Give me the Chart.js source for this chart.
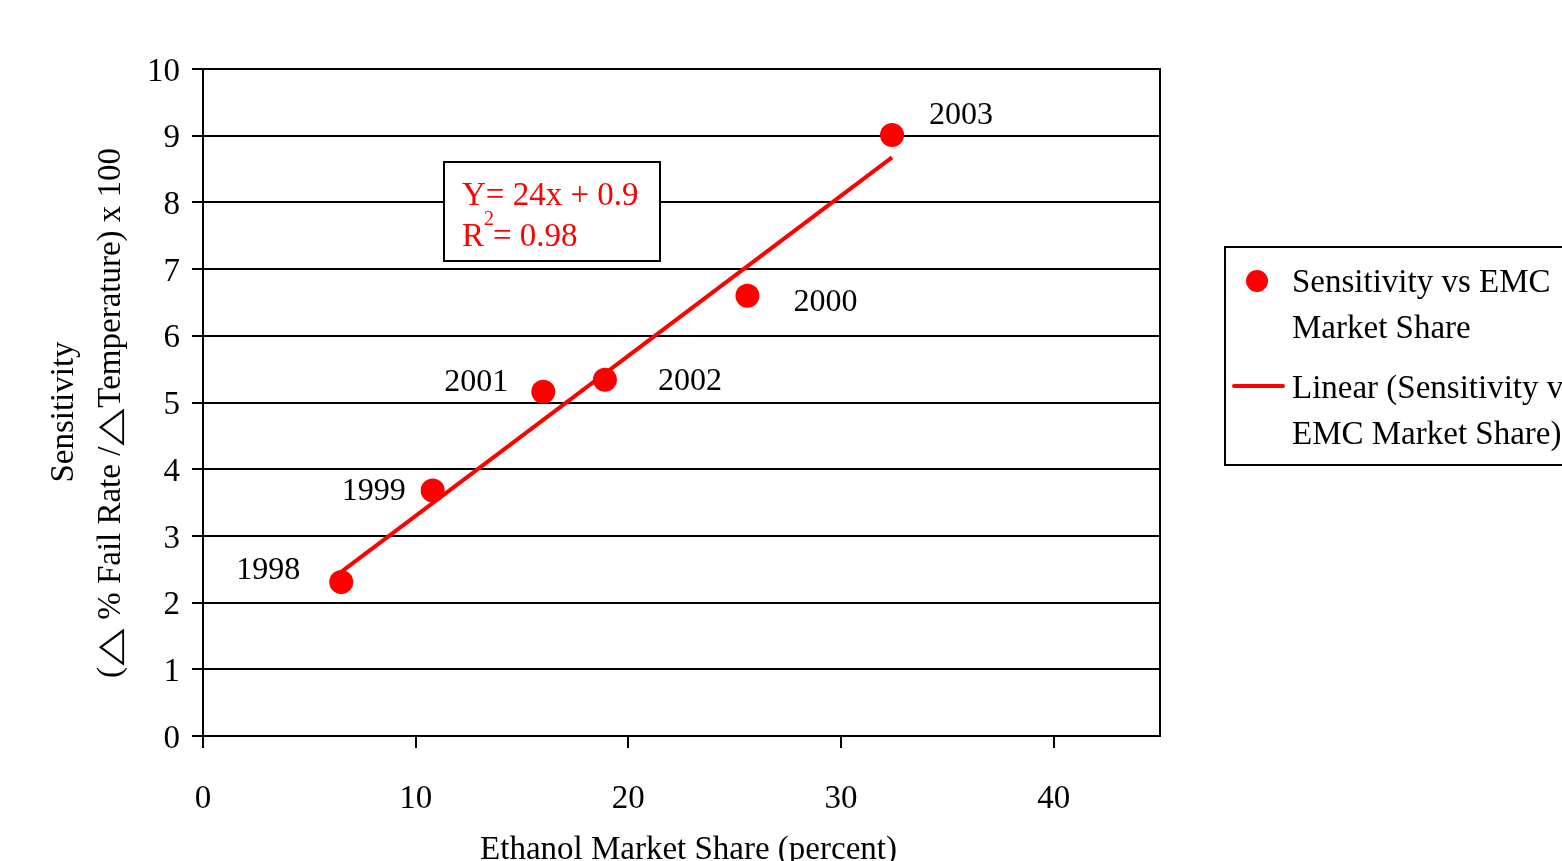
<!DOCTYPE html>
<html>
<head>
<meta charset="utf-8">
<title>Sensitivity vs Ethanol Market Share</title>
<script src="https://cdn.jsdelivr.net/npm/chart.js@4/dist/chart.umd.min.js"></script>
<style>
  html, body { margin: 0; padding: 0; background: #ffffff; overflow: hidden; }
  #chart { display: block; }
</style>
</head>
<body>
<canvas id="chart" width="1562" height="861"></canvas>
<script>
// Yearly observations: ethanol market share (%) vs sensitivity
const years = ['1998', '1999', '2001', '2002', '2000', '2003'];
const marketShare = [6.5, 10.8, 16.0, 18.9, 25.6, 32.4];
const sensitivity = [2.31, 3.68, 5.16, 5.34, 6.6, 9.01];

// Linear fit as stated in the equation box (slope per percent point)
const fitSlope = 0.24;
const fitIntercept = 0.9;
const rSquared = 0.98;

// Axis ticks
const xTickValues = [0, 10, 20, 30, 40];
const yTickValues = [0, 1, 2, 3, 4, 5, 6, 7, 8, 9, 10];

// Year label placement (pixel offsets from each marker)
const yearLabelOffsets = [[-73, -11], [-59, 1], [-67, -9], [85, 2], [78, 7], [69, -19]];

const SERIF = '"Liberation Serif", "Times New Roman", serif';
const RED = '#ff0000';

const scatterPoints = marketShare.map((x, i) => ({ x: x, y: sensitivity[i] }));
const xMin = Math.min(...marketShare);
const xMax = Math.max(...marketShare);
const fitPoints = [xMin, xMax].map(x => ({ x: x, y: fitSlope * x + fitIntercept }));

// Second line of the y-axis title, with wide delta triangles
const yTitleParts = ['(', '\u25B3', ' % Fail Rate /', '\u25B3', 'Temperature) x 100'];
const DELTA_WIDTH = 37;

function drawYTitleLine(ctx, cx, cy) {
  ctx.save();
  ctx.translate(cx, cy);
  ctx.rotate(-Math.PI / 2);
  ctx.font = '33px ' + SERIF;
  ctx.textAlign = 'left';
  ctx.textBaseline = 'middle';
  const widths = yTitleParts.map(p => p === '\u25B3' ? DELTA_WIDTH + 2 : ctx.measureText(p).width);
  const total = widths.reduce((a, b) => a + b, 0);
  let x = -total / 2;
  yTitleParts.forEach((p, i) => {
    if (p === '\u25B3') {
      const w = ctx.measureText(p).width;
      ctx.save();
      ctx.translate(x + 1, 0);
      ctx.scale(DELTA_WIDTH / w, 1);
      ctx.fillText(p, 0, 0);
      ctx.restore();
    } else {
      ctx.fillText(p, x, 0);
    }
    x += widths[i];
  });
  ctx.restore();
}

const decorations = {
  id: 'decorations',
  afterDatasetsDraw(chart) {
    const ctx = chart.ctx;
    const area = chart.chartArea;
    const xs = chart.scales.x;
    const ys = chart.scales.y;
    ctx.save();

    // right edge of the plot frame
    ctx.strokeStyle = '#000';
    ctx.lineWidth = 2;
    ctx.beginPath();
    ctx.moveTo(area.right, area.top - 1);
    ctx.lineTo(area.right, area.bottom);
    ctx.stroke();

    // year labels beside markers
    ctx.fillStyle = '#000';
    ctx.font = '32px ' + SERIF;
    ctx.textAlign = 'center';
    ctx.textBaseline = 'middle';
    years.forEach((yr, i) => {
      const px = xs.getPixelForValue(marketShare[i]);
      const py = ys.getPixelForValue(sensitivity[i]);
      ctx.fillText(yr, px + yearLabelOffsets[i][0], py + yearLabelOffsets[i][1]);
    });

    // equation box
    const bx = area.left + 241, by = area.top + 93, bw = 216, bh = 99;
    ctx.fillStyle = '#fff';
    ctx.fillRect(bx, by, bw, bh);
    ctx.strokeStyle = '#000';
    ctx.lineWidth = 2;
    ctx.strokeRect(bx, by, bw, bh);
    ctx.fillStyle = RED;
    ctx.textAlign = 'left';
    ctx.font = '33px ' + SERIF;
    ctx.fillText('Y= ' + Math.round(fitSlope * 100) + 'x + ' + fitIntercept, bx + 18, by + 34);
    ctx.fillText('R', bx + 18, by + 75);
    ctx.font = '20px ' + SERIF;
    ctx.fillText('2', bx + 40, by + 58);
    ctx.font = '33px ' + SERIF;
    ctx.fillText('= ' + rSquared.toFixed(2), bx + 49, by + 75);

    // axis titles
    ctx.fillStyle = '#000';
    ctx.font = '33px ' + SERIF;
    ctx.textAlign = 'center';
    ctx.fillText('Ethanol Market Share (percent)', (area.left + area.right) / 2 + 7, 850);
    ctx.save();
    ctx.translate(64, 412);
    ctx.rotate(-Math.PI / 2);
    ctx.fillText('Sensitivity', 0, 0);
    ctx.restore();
    drawYTitleLine(ctx, 111, 413);

    // legend
    const lx = 1225, ly = 247;
    ctx.strokeStyle = '#000';
    ctx.lineWidth = 2;
    ctx.strokeRect(lx, ly, 400, 218);
    ctx.fillStyle = RED;
    ctx.beginPath();
    ctx.arc(lx + 32, ly + 34, 11, 0, Math.PI * 2);
    ctx.fill();
    ctx.strokeStyle = RED;
    ctx.lineWidth = 4;
    ctx.lineCap = 'round';
    ctx.beginPath();
    ctx.moveTo(lx + 9, ly + 139);
    ctx.lineTo(lx + 58, ly + 139);
    ctx.stroke();
    ctx.fillStyle = '#000';
    ctx.font = '33px ' + SERIF;
    ctx.textAlign = 'left';
    ctx.textBaseline = 'middle';
    ctx.fillText('Sensitivity vs EMC', lx + 67, ly + 36);
    ctx.fillText('Market Share', lx + 67, ly + 82);
    ctx.fillText('Linear (Sensitivity vs', lx + 67, ly + 142);
    ctx.fillText('EMC Market Share)', lx + 67, ly + 188);

    ctx.restore();
  }
};

new Chart(document.getElementById('chart'), {
  type: 'scatter',
  data: {
    datasets: [
      {
        label: 'Sensitivity vs EMC Market Share',
        data: scatterPoints,
        backgroundColor: RED,
        borderColor: RED,
        pointRadius: 12,
        pointHoverRadius: 12,
        pointBorderWidth: 0,
        showLine: false,
        order: 1
      },
      {
        label: 'Linear (Sensitivity vs EMC Market Share)',
        data: fitPoints,
        type: 'line',
        borderColor: RED,
        borderWidth: 4,
        pointRadius: 0,
        fill: false,
        tension: 0,
        order: 2
      }
    ]
  },
  options: {
    responsive: false,
    animation: false,
    devicePixelRatio: 1,
    events: [],
    layout: { padding: { top: 69, right: 402, bottom: 0, left: 0 } },
    plugins: {
      legend: { display: false },
      title: { display: false },
      tooltip: { enabled: false }
    },
    scales: {
      x: {
        type: 'linear',
        min: 0,
        max: 45,
        afterFit(scale) { scale.height = 125; },
        afterBuildTicks(scale) { scale.ticks = xTickValues.map(v => ({ value: v })); },
        border: { display: true, color: '#000', width: 2 },
        grid: { drawOnChartArea: false, drawTicks: true, tickLength: 12, color: '#000', lineWidth: 2 },
        ticks: { color: '#000', font: { family: SERIF, size: 33 }, padding: 32, maxRotation: 0 }
      },
      y: {
        type: 'linear',
        min: 0,
        max: 10,
        afterFit(scale) { scale.width = 203; },
        afterBuildTicks(scale) { scale.ticks = yTickValues.map(v => ({ value: v })); },
        border: { display: true, color: '#000', width: 2 },
        grid: { drawOnChartArea: true, drawTicks: true, tickLength: 11, color: '#000', lineWidth: 2 },
        ticks: { color: '#000', font: { family: SERIF, size: 33 }, padding: 12, labelOffset: 3 }
      }
    }
  },
  plugins: [decorations]
});
</script>
</body>
</html>
